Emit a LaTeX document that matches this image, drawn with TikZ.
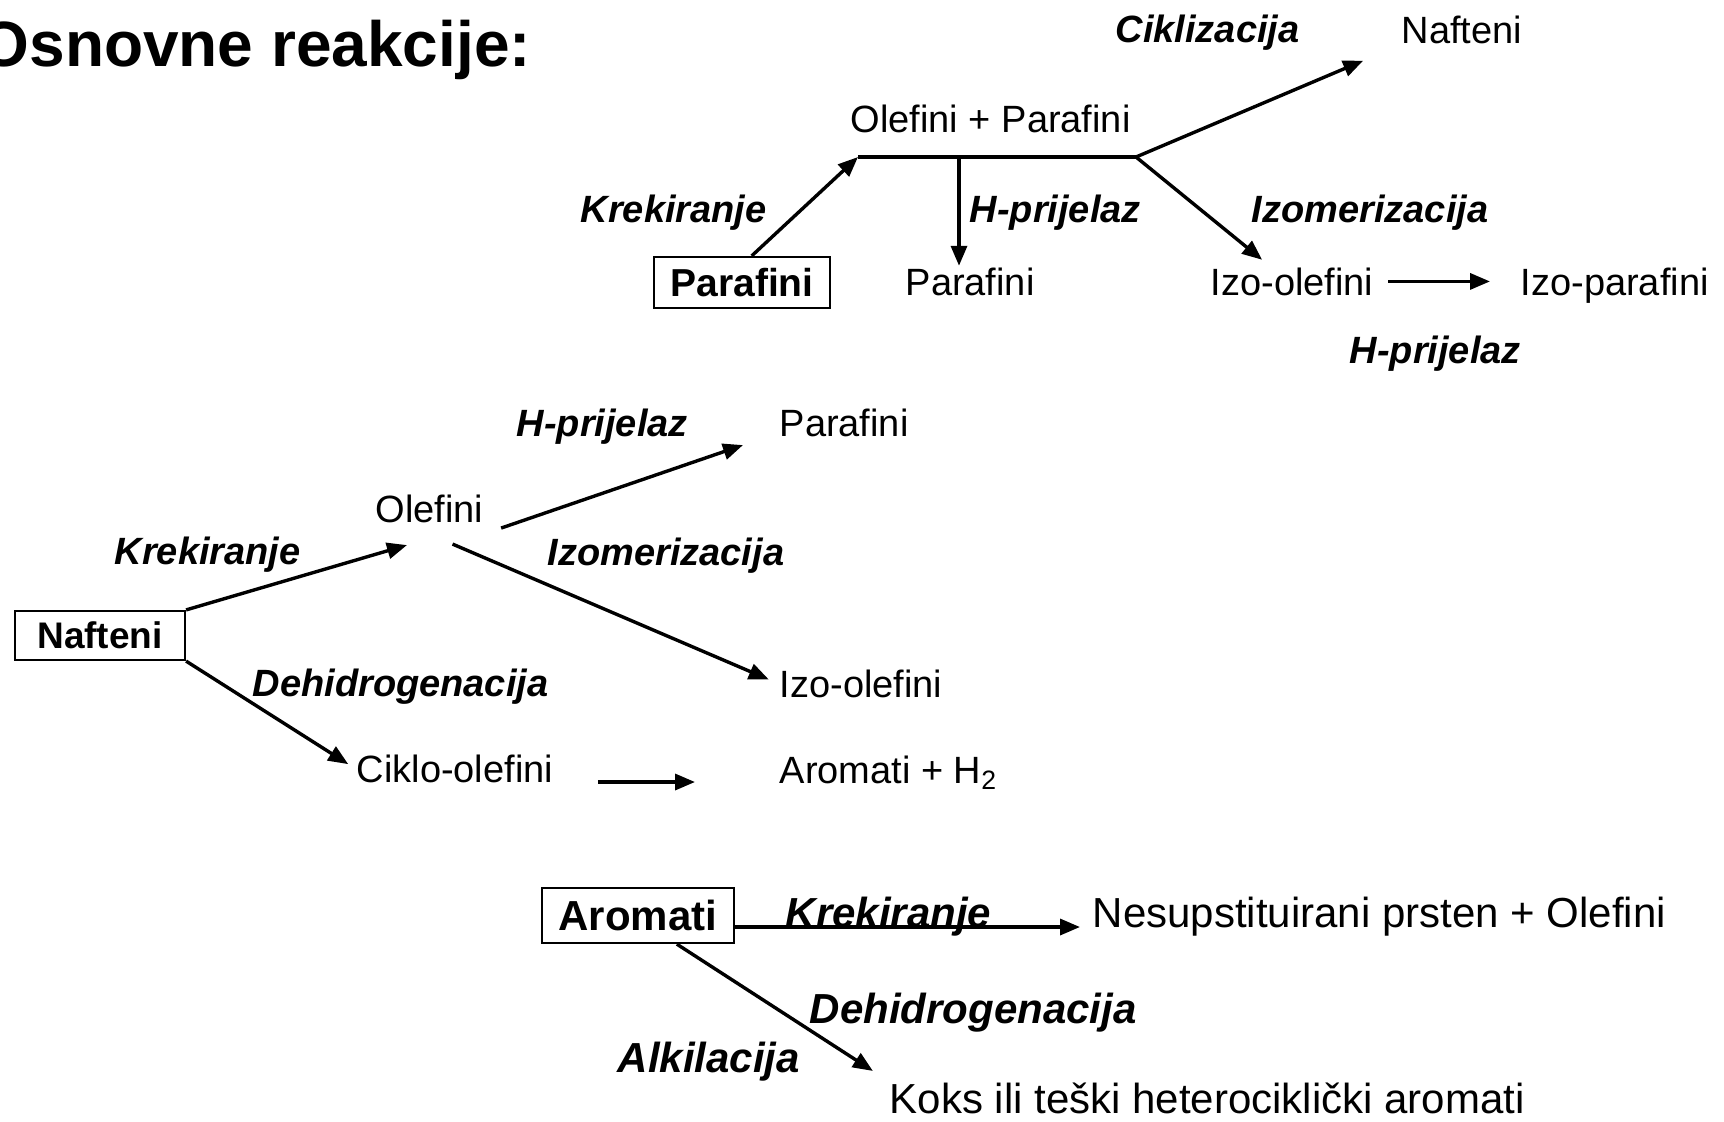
\documentclass[tikz,border=0pt]{standalone}
\usepackage{fontspec}
\setmainfont{Liberation Sans}
\usetikzlibrary{arrows.meta,positioning,calc}

\begin{document}
\begin{tikzpicture}[x=0.5pt, y=-0.5pt, inner sep=0pt,
  every path/.style={line width=1.7pt},
  rx/.style={-{Triangle[length=10pt,width=8pt]}},
  txt/.style={anchor=base west, font=\fontsize{19}{22}\selectfont},
  lbl/.style={anchor=base west, font=\fontsize{19}{22}\selectfont\bfseries\itshape},
  txtbig/.style={anchor=base west, font=\fontsize{21}{25}\selectfont},
  lblbig/.style={anchor=base west, font=\fontsize{21}{25}\selectfont\bfseries\itshape},
  box/.style={draw, line width=1.1pt, font=\fontsize{19.5}{22}\selectfont\bfseries}]
\useasboundingbox (0,0) rectangle (1724,1121);

\node (title) [anchor=base west, font=\fontsize{32}{38}\selectfont\bfseries] at (-22,66) {Osnovne reakcije:};

% ------------------------------- parafini

\node (cik) [lbl] at (1114,42) {Ciklizacija};
\node (naft1) [txt] at (1400,43) {Nafteni};
\node (olpar) [txt] at (849,132) {Olefini + Parafini};
\node (krek1) [lbl] at (579,222) {Krekiranje};
\node (hpr1) [lbl] at (968,222) {H-prijelaz};
\node (izom1) [lbl] at (1250,222) {Izomerizacija};
\node (par1) [box, minimum width=88pt, minimum height=25.5pt] at (742,282.5) {Parafini};
\node (par2) [txt] at (904,295) {Parafini};
\node (izo1) [txt] at (1209,295) {Izo-olefini};
\node (izo2) [txt] at (1519,295) {Izo-parafini};
\node (hpr2) [lbl] at (1348,363) {H-prijelaz};

\coordinate (j1) at (858,157);
\coordinate (j2) at (1136,157);
\coordinate (j3) at (959,157);

\draw[rx] (par1.70) -- (j1);
\draw (j1) -- (j2);
\draw[rx] (j3) -- (j3 |- par2.north);
\draw[rx, shorten >=20pt] (j2) -- (naft1.south west);
\draw[rx] (j2) -- ($(izo1.north west)!0.32!(izo1.north east)+(0,-6)$);
\draw[rx, shorten <=6.5pt, shorten >=14.5pt] (izo1.east) -- (izo1.east -| izo2.west);

% ------------------------------- nafteni

\node (hpr3) [lbl] at (515,436) {H-prijelaz};
\node (par3) [txt] at (778,436) {Parafini};
\node (ole) [txt] at (374,522) {Olefini};
\node (krek2) [lbl] at (113,564) {Krekiranje};
\node (izom2) [lbl] at (546,565) {Izomerizacija};
\node (naft2) [box, minimum width=85pt, minimum height=24.5pt, font=\fontsize{18.5}{22}\selectfont\bfseries] at (100,635.5) {Nafteni};
\node (deh1) [lbl] at (251,696) {Dehidrogenacija};
\node (izo3) [txt] at (778,697) {Izo-olefini};
\node (ciko) [txt] at (355,782) {Ciklo-olefini};
\node (arh) [txt] at (778,783) {Aromati + H\textsubscript{2}};

\draw[rx] (naft2.north east) -- ($(ole.south west)+(33,21)$);
\draw[rx] ($(ole.south east)+(16,4)$) -- ($(par3.south west)+(-35,7)$);
\draw[rx, shorten >=5pt] ($(ole.south)+(23,20)$) -- (izo3.west);
\draw[rx, shorten >=4pt] (naft2.south east) -- (ciko.west);
\draw[rx, shorten <=21.5pt, shorten >=41.5pt] (ciko.base east) -- (ciko.base east -| arh.base west);

% ------------------------------- aromati

\node (arom) [box, minimum width=96pt, minimum height=27.5pt, font=\fontsize{21}{25}\selectfont\bfseries] at (638,915.5) {Aromati};
\node (krek3) [lblbig] at (784,927) {Krekiranje};
\node (nes) [txtbig] at (1091,927) {Nesupstituirani prsten + Olefini};
\node (deh2) [lblbig] at (808,1023) {Dehidrogenacija};
\node (alk) [lblbig] at (616,1072) {Alkilacija};
\node (koks) [txtbig] at (888,1113) {Koks ili teški heterociklički aromati};

\draw[rx, shorten >=5.5pt] (arom.east |- nes.base) -- (nes.base west);
\draw[rx, shorten >=9pt] ($(arom.south west)!0.7!(arom.south east)$) -- (koks.north west);
\end{tikzpicture}
\end{document}
